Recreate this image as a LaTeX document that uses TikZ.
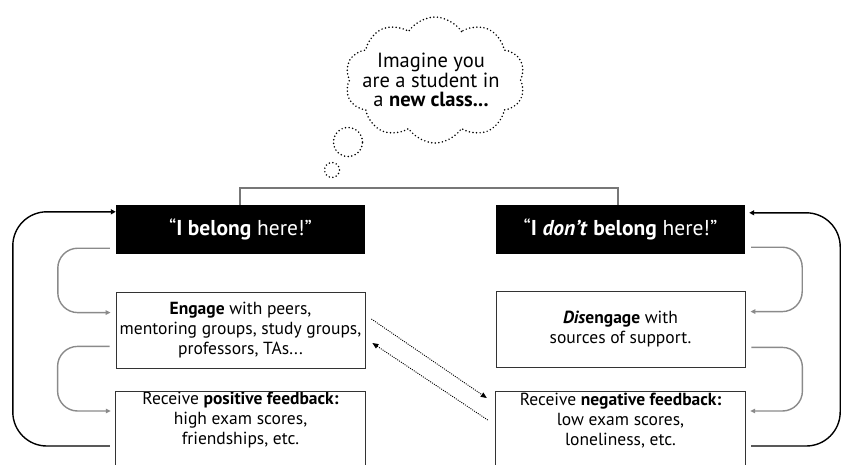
\documentclass[tikz,border=0pt]{standalone}
\usepackage{fontspec}
\setmainfont{PT Sans}
\usetikzlibrary{shapes.symbols,arrows.meta,calc}
\definecolor{loopgray}{HTML}{8A8A8A}
\definecolor{linegray}{HTML}{777777}
\begin{document}
\begin{tikzpicture}[x=1pt,y=-1pt,
  dotline/.style={line width=1.7pt,dash pattern=on 0pt off 3.6pt,line cap=round},
  blackbox/.style={fill=black,text=white,minimum width=249pt,minimum height=49pt,inner sep=0pt,font=\fontsize{21.5}{24}\selectfont},
  whitebox/.style={draw=black!80,line width=0.8pt,minimum width=249pt,minimum height=76pt,inner sep=0pt,align=center,font=\fontsize{17.5}{20}\selectfont},
  openbox/.style={minimum width=249pt,minimum height=58pt,inner sep=0pt,align=center,anchor=north,font=\fontsize{17.5}{20}\selectfont},
  grayloop/.style={draw=loopgray,line width=1.4pt,rounded corners=20pt,-{Triangle[length=5pt,width=4.5pt]}},
  blackloop/.style={draw=black,line width=1.4pt,rounded corners=34pt,-{Triangle[length=5pt,width=5pt]}},
  dotarrow/.style={line width=0.9pt,dash pattern=on 1pt off 1.2pt,-{Triangle[length=6pt,width=5pt]}}
]
\useasboundingbox (0,0) rectangle (843,464);
\clip (0,0) rectangle (843,464);

% thought cloud
\node[cloud,cloud puffs=10,cloud puff arc=115,aspect=1.45,draw,dotline,minimum width=180pt,minimum height=126pt] (cloud) at (435,80) {};
\node[align=center,font=\fontsize{20.5}{18.5}\selectfont] (cloudtext) at (431,80) {Imagine you\\are a student in\\a \textbf{new class...}};
\node[circle,draw,dotline,minimum size=29pt,inner sep=0pt] (bub1) at (348,142) {};
\node[circle,draw,dotline,minimum size=15pt,inner sep=0pt] (bub2) at (332,170) {};

% boxes
\node[blackbox] (yes) at (240.5,229.5) {``\textbf{I belong} here!''};
\node[blackbox] (no) at (620.5,229.5) {``\textbf{I \textit{don't} belong} here!''};
\node[whitebox] (eng) at (240.5,330) {\textbf{Engage} with peers,\\mentoring groups, study groups,\\professors, TAs...};
\node[whitebox] (dis) at (620.5,329) {\textbf{\textit{Dis}engage} with\\sources of support.};
\node[openbox] (pos) at (240.5,391) {Receive \textbf{positive feedback:}\\high exam scores,\\friendships, etc.};
\node[openbox] (neg) at (620.5,391) {Receive \textbf{negative feedback:}\\low exam scores,\\loneliness, etc.};
\draw[black!80,line width=0.8pt] ([yshift=-40pt]pos.south west) -- (pos.north west) -- (pos.north east) -- ([yshift=-40pt]pos.south east);
\draw[black!80,line width=0.8pt] ([yshift=-40pt]neg.south west) -- (neg.north west) -- (neg.north east) -- ([yshift=-40pt]neg.south east);

% top connector
\draw[linegray,line width=1.4pt] ([xshift=-0.5pt]yes.north) -- ++(0,-17) -| ([xshift=-2.5pt]no.north);

% left loops
\draw[grayloop] ($(yes.south west)+(-6,-6)$) -- ++(-52,0) |- ($(eng.north west)+(-5,21)$);
\draw[grayloop] ($(eng.south west)+(-6,-22)$) -- ++(-52,0) |- ($(pos.north west)+(-5,20)$);
\draw[blackloop] ($(pos.north west)+(-6,55)$) -- ++(-97,0) |- ($(yes.north west)+(0,7)$);

% right loops
\draw[grayloop] ($(no.south east)+(6,-7)$) -- ++(51,0) |- ($(dis.north east)+(5,21)$);
\draw[grayloop] ($(dis.south east)+(6,-20)$) -- ++(51,0) |- ($(neg.north east)+(5,20)$);
\draw[blackloop] ($(neg.north east)+(6,55)$) -- ++(89,0) |- ($(no.north east)+(4,8)$);

% cross arrows
\draw[dotarrow] ($(eng.east)+(6,-11)$) -- ($(neg.north west)+(-9,7)$);
\draw[dotarrow] ($(neg.north west)+(-8,29)$) -- ($(eng.east)+(7,13)$);
\end{tikzpicture}
\end{document}
